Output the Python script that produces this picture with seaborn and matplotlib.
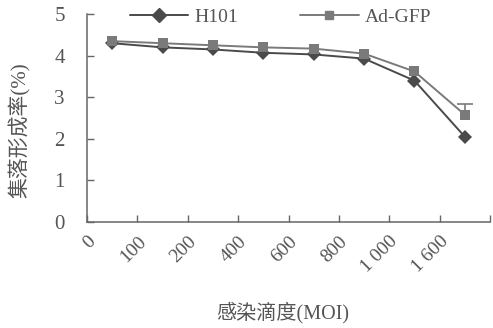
import matplotlib
matplotlib.use("Agg")
import matplotlib.pyplot as plt
import seaborn as sns
import pandas as pd
import numpy as np

# Colony formation rate (%) at each infection titre
moi_labels = ["0", "100", "200", "400", "600", "800", "1 000", "1 600"]
h101 = [4.30, 4.20, 4.15, 4.07, 4.03, 3.93, 3.40, 2.05]
ad_gfp = [4.35, 4.30, 4.25, 4.20, 4.17, 4.05, 3.62, 2.58]
ad_gfp_err = [0, 0, 0, 0, 0, 0, 0, 0.25]
y_ticks = [0, 1, 2, 3, 4, 5]

series_names = ["H101", "Ad-GFP"]
colors = {"H101": "#4a4a4a", "Ad-GFP": "#7a7a7a"}
markers = {"H101": "D", "Ad-GFP": "s"}

pos = np.arange(len(moi_labels)) + 0.5
df = pd.DataFrame({
    "pos": np.concatenate([pos, pos]),
    "rate": h101 + ad_gfp,
    "series": ["H101"] * len(h101) + ["Ad-GFP"] * len(ad_gfp),
})

sns.set_theme(style="ticks")
plt.rcParams["font.family"] = ["Liberation Serif", "Noto Sans CJK SC"]
text_color = "#555555"
plt.rcParams["text.color"] = text_color
plt.rcParams["axes.labelcolor"] = text_color
plt.rcParams["xtick.color"] = "#666666"
plt.rcParams["ytick.color"] = "#666666"
plt.rcParams["xtick.labelcolor"] = text_color
plt.rcParams["ytick.labelcolor"] = text_color

fig = plt.figure(figsize=(4.93, 3.28), dpi=100)
ax = fig.add_axes([0.1765, 0.323, 0.8175, 0.634])

sns.lineplot(data=df, x="pos", y="rate", hue="series", style="series",
             hue_order=series_names, style_order=series_names,
             palette=colors, markers=markers, dashes=False,
             markersize=7, linewidth=1.4, markeredgewidth=0,
             legend=False, ax=ax)

# upper-only error bars on the Ad-GFP series
for x, y, e in zip(pos, ad_gfp, ad_gfp_err):
    if e > 0:
        _, caps, _ = ax.errorbar([x], [y], yerr=[[0], [e]], fmt="none",
                                 ecolor=colors["Ad-GFP"], elinewidth=1.2,
                                 capsize=6, capthick=1.2)
        caps[0].set_visible(False)

ax.set_xlim(0, len(moi_labels))
ax.set_ylim(0, 5)
ax.set_xticks(np.arange(len(moi_labels) + 1))
ax.set_xticklabels(moi_labels + [""], rotation=45, ha="right", va="top",
                   rotation_mode="anchor", fontsize=14)
ax.set_yticks(y_ticks)
ax.set_yticklabels([str(t) for t in y_ticks], fontsize=15)
ax.tick_params(axis="both", direction="in", length=5, width=1)
ax.tick_params(axis="y", pad=16)
ax.tick_params(axis="x", pad=8)

for side in ["top", "right"]:
    ax.spines[side].set_visible(False)
for side in ["left", "bottom"]:
    ax.spines[side].set_color("#666666")
    ax.spines[side].set_linewidth(1.1)

ax.set_xlabel("感染滴度(MOI)", fontsize=14.5)
ax.set_ylabel("集落形成率(%)", fontsize=15)
ax.xaxis.set_label_coords(0.484, -0.385)
ax.yaxis.set_label_coords(-0.14, 0.44)

handles = [
    plt.Line2D([], [], color=colors["H101"], marker="D", markersize=7, lw=1.4),
    plt.Line2D([], [], color=colors["Ad-GFP"], marker="s", markersize=6, lw=1.4),
]
ax.legend(handles, series_names, loc="center", bbox_to_anchor=(0.48, 0.985),
          ncol=2, frameon=False, fontsize=14, handlelength=3,
          columnspacing=3.2, handletextpad=0.3)

fig.savefig("out.png", dpi=100)
